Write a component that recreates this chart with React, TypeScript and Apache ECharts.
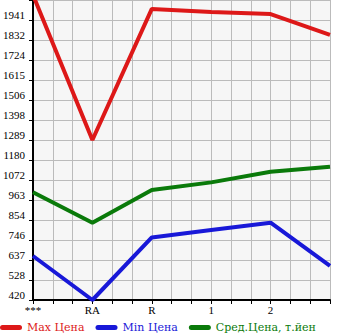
import React, { useEffect, useRef } from "react";
import * as echarts from "echarts";

const categories = ["***", "RA", "R", "1", "2", ""];
const maxPrices = [2077, 1289, 2001, 1984, 1973, 1860];
const minPrices = [659, 420, 760, 800, 840, 605];
const avgPrices = [1005, 840, 1017, 1059, 1117, 1144];
const yTickLabels = [
  "420", "528", "637", "746", "854", "963", "1072", "1180",
  "1289", "1398", "1506", "1615", "1724", "1832", "1941",
];
const seriesNames = ["Max Цена", "Min Цена", "Сред.Цена, т.йен"];
const colors = ["#dd1818", "#1818d8", "#0a7a0a"];

const Y_MIN = 420;
const Y_STEP = 108.64;
const GRID_DIVS = 15;
const X_SUBDIVS = 3;

const axisFont = "'Liberation Serif', serif";
const legendFont = "'DejaVu Serif', serif";

const pillIcon =
  "path://M2.5,0 L19.5,0 A2.5,2.5 0 0 1 19.5,5 L2.5,5 A2.5,2.5 0 0 1 2.5,0 Z";

export default function App() {
  const ref = useRef<HTMLDivElement>(null);
  useEffect(() => {
    document.body.style.margin = "0";
    if (!ref.current) return;
    const chart = echarts.init(ref.current, null, { renderer: "svg" });
    const seriesData = [maxPrices, minPrices, avgPrices];
    chart.setOption({
      animation: false,
      grid: {
        left: 30,
        top: 0,
        right: 15,
        bottom: 35,
        show: true,
        backgroundColor: "#f6f6f6",
        borderWidth: 0,
      },
      xAxis: [
        {
          type: "category",
          data: categories,
          boundaryGap: false,
          show: false,
        },
        {
          type: "value",
          min: 0,
          max: GRID_DIVS,
          interval: 1,
          position: "bottom",
          axisLine: { show: true, lineStyle: { color: "#000", width: 2 } },
          axisTick: { show: true, length: 4, lineStyle: { color: "#000" } },
          splitLine: { show: true, lineStyle: { color: "#bbbbbb", width: 1 } },
          axisLabel: {
            margin: 4,
            color: "#000",
            fontFamily: axisFont,
            fontSize: 11,
            showMinLabel: true,
            showMaxLabel: true,
            formatter: (v: number) => {
              const i = Math.round(v);
              if (i % X_SUBDIVS !== 0) return "";
              return categories[i / X_SUBDIVS] ?? "";
            },
          },
        },
      ],
      yAxis: [
        {
          type: "value",
          min: Y_MIN,
          max: Y_MIN + Y_STEP * GRID_DIVS,
          show: false,
        },
        {
          type: "value",
          min: 0,
          max: GRID_DIVS,
          interval: 1,
          position: "left",
          axisLine: { show: true, lineStyle: { color: "#000", width: 2 } },
          axisTick: { show: true, length: 4, lineStyle: { color: "#000" } },
          splitLine: { show: true, lineStyle: { color: "#bbbbbb", width: 1 } },
          axisLabel: {
            margin: 8,
            color: "#000",
            fontFamily: axisFont,
            fontSize: 11,
            verticalAlign: "bottom",
            lineHeight: 10,
            showMinLabel: true,
            formatter: (v: number) => yTickLabels[Math.round(v)] ?? "",
          },
        },
      ],
      legend: {
        left: 0,
        top: 322,
        padding: 0,
        itemGap: 11,
        itemWidth: 22,
        itemHeight: 5,
        textStyle: { fontFamily: legendFont, fontSize: 11 },
        data: seriesNames.map((n, i) => ({
          name: n,
          icon: pillIcon,
          itemStyle: { color: colors[i] },
          textStyle: { color: colors[i] },
        })),
      },
      series: seriesNames.map((n, i) => ({
        name: n,
        type: "line",
        xAxisIndex: 0,
        yAxisIndex: 0,
        data: seriesData[i],
        symbol: "none",
        clip: true,
        lineStyle: { color: colors[i], width: 4 },
        itemStyle: { color: colors[i] },
      })),
    });
    return () => chart.dispose();
  }, []);
  return <div ref={ref} style={{ width: 345, height: 335 }} />;
}
